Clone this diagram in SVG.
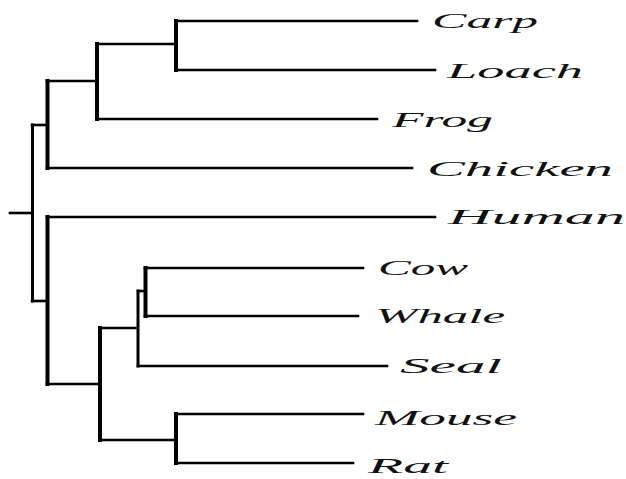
<svg xmlns="http://www.w3.org/2000/svg" width="626" height="479" viewBox="0 0 626 479">
  <style>
    .h { stroke: #000; stroke-width: 2.6; fill: none; stroke-linecap: square; }
    .v { stroke: #000; stroke-width: 4; fill: none; stroke-linecap: square; }
    .vt { stroke: #000; stroke-width: 3; fill: none; stroke-linecap: square; }
    .lbl { font-family: "Liberation Serif", "DejaVu Serif", serif; font-style: italic; font-size: 21px; fill: #111; }
  </style>
  <rect width="626" height="479" fill="#fff"/>

  <!-- tree branches -->
  <g id="connectors">
    <!-- root stub and outer join -->
    <line class="h" x1="10" y1="213" x2="31" y2="213"/>
    <line class="vt" x1="32.5" y1="125" x2="32.5" y2="301"/>
    <line class="h" x1="32" y1="125" x2="46" y2="125"/>
    <line class="h" x1="32" y1="301" x2="46" y2="301"/>

    <!-- fish / amphibian / bird clade -->
    <line class="v" x1="47.5" y1="81" x2="47.5" y2="168"/>
    <line class="h" x1="47" y1="81" x2="96" y2="81"/>
    <line class="h" x1="47" y1="168" x2="412" y2="168"/>
    <line class="v" x1="97" y1="44" x2="97" y2="119"/>
    <line class="h" x1="97" y1="44" x2="175" y2="44"/>
    <line class="h" x1="97" y1="119" x2="377" y2="119"/>
    <line class="v" x1="176" y1="21" x2="176" y2="70"/>
    <line class="h" x1="176" y1="21" x2="417" y2="21"/>
    <line class="h" x1="176" y1="70" x2="435" y2="70"/>

    <!-- mammal clade -->
    <line class="v" x1="47.5" y1="217" x2="47.5" y2="384"/>
    <line class="h" x1="47" y1="217" x2="435" y2="217"/>
    <line class="h" x1="47" y1="384" x2="99" y2="384"/>
    <line class="v" x1="100" y1="328" x2="100" y2="440"/>
    <line class="h" x1="100" y1="328" x2="137" y2="328"/>
    <line class="vt" x1="138" y1="291" x2="138" y2="366"/>
    <line class="h" x1="138" y1="291" x2="144" y2="291"/>
    <line class="h" x1="138" y1="366" x2="387" y2="366"/>
    <line class="v" x1="145.5" y1="268" x2="145.5" y2="316"/>
    <line class="h" x1="145" y1="268" x2="363" y2="268"/>
    <line class="h" x1="145" y1="316" x2="358" y2="316"/>
    <line class="h" x1="100" y1="440" x2="175" y2="440"/>
    <line class="v" x1="176" y1="414" x2="176" y2="463"/>
    <line class="h" x1="176" y1="414" x2="363" y2="414"/>
    <line class="h" x1="176" y1="463" x2="353" y2="463"/>
  </g>

  <!-- leaf labels -->
  <g id="carp"><text class="lbl" x="432" y="28" textLength="106" lengthAdjust="spacingAndGlyphs">Carp</text></g>
  <g id="loach"><text class="lbl" x="447" y="78" textLength="136" lengthAdjust="spacingAndGlyphs">Loach</text></g>
  <g id="frog"><text class="lbl" x="392" y="127" textLength="101" lengthAdjust="spacingAndGlyphs">Frog</text></g>
  <g id="chicken"><text class="lbl" x="427" y="176" textLength="186" lengthAdjust="spacingAndGlyphs">Chicken</text></g>
  <g id="human"><text class="lbl" x="448" y="224" textLength="177" lengthAdjust="spacingAndGlyphs">Human</text></g>
  <g id="cow"><text class="lbl" x="378" y="275" textLength="90" lengthAdjust="spacingAndGlyphs">Cow</text></g>
  <g id="whale"><text class="lbl" x="375" y="323" textLength="130" lengthAdjust="spacingAndGlyphs">Whale</text></g>
  <g id="seal"><text class="lbl" x="400" y="373" textLength="102" lengthAdjust="spacingAndGlyphs">Seal</text></g>
  <g id="mouse"><text class="lbl" x="375" y="425" textLength="142" lengthAdjust="spacingAndGlyphs">Mouse</text></g>
  <g id="rat"><text class="lbl" x="368" y="473" textLength="80" lengthAdjust="spacingAndGlyphs">Rat</text></g>
</svg>
